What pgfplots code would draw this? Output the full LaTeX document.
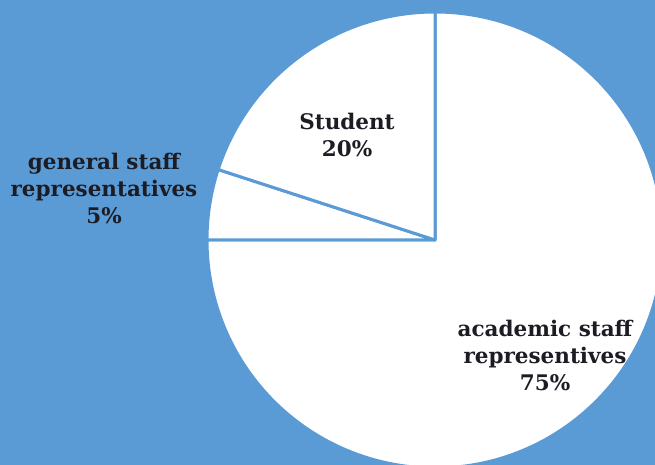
\documentclass[border=0pt]{standalone}
\usepackage{pgfplots}
\pgfplotsset{compat=1.18}
\usepackage{pgfplotstable}
\usepackage{fontspec}
\setmainfont{DejaVu Serif}
\definecolor{bgblue}{HTML}{5B9BD5}
\definecolor{txt}{HTML}{1C1C24}
\pgfplotstableread{
label value
academic 75
general 5
student 20
}\piedata
\pgfplotstablegetelem{0}{value}\of\piedata \let\vA\pgfplotsretval
\pgfplotstablegetelem{1}{value}\of\piedata \let\vB\pgfplotsretval
\pgfplotstablegetelem{2}{value}\of\piedata \let\vC\pgfplotsretval
\pgfmathsetmacro{\aZero}{90}
\pgfmathsetmacro{\aOne}{90-3.6*\vA}
\pgfmathsetmacro{\aTwo}{\aOne-3.6*\vB}
\pgfmathsetmacro{\aThree}{\aTwo-3.6*\vC}
\begin{document}
\begin{tikzpicture}
\begin{axis}[
  x=1bp, y=1bp, xmin=0, xmax=655, ymin=0, ymax=465,
  hide axis, clip=true, scale only axis,
]
\fill[bgblue] (axis cs:0,0) rectangle (axis cs:655,465);
\draw[fill=white, draw=bgblue, line width=3bp, line join=round]
  (axis cs:435,225) -- ([shift={(\aZero:228bp)}]axis cs:435,225)
  arc[start angle=\aZero, end angle=\aOne, radius=228bp] -- cycle;
\draw[fill=white, draw=bgblue, line width=3bp, line join=round]
  (axis cs:435,225) -- ([shift={(\aOne:228bp)}]axis cs:435,225)
  arc[start angle=\aOne, end angle=\aTwo, radius=228bp] -- cycle;
\draw[fill=white, draw=bgblue, line width=3bp, line join=round]
  (axis cs:435,225) -- ([shift={(\aTwo:228bp)}]axis cs:435,225)
  arc[start angle=\aTwo, end angle=\aThree, radius=228bp] -- cycle;
\node[align=center, text=txt, font=\bfseries\fontsize{21.5bp}{27bp}\selectfont] at (axis cs:347,330) {Student\\20\%};
\node[align=center, text=txt, font=\bfseries\fontsize{21.5bp}{27bp}\selectfont] at (axis cs:104,277) {general\,\,staff\\representatives\\5\%};
\node[align=center, text=txt, font=\bfseries\fontsize{21.5bp}{27bp}\selectfont] at (axis cs:545,110) {academic staff\\representives\\75\%};
\end{axis}
\end{tikzpicture}
\end{document}
